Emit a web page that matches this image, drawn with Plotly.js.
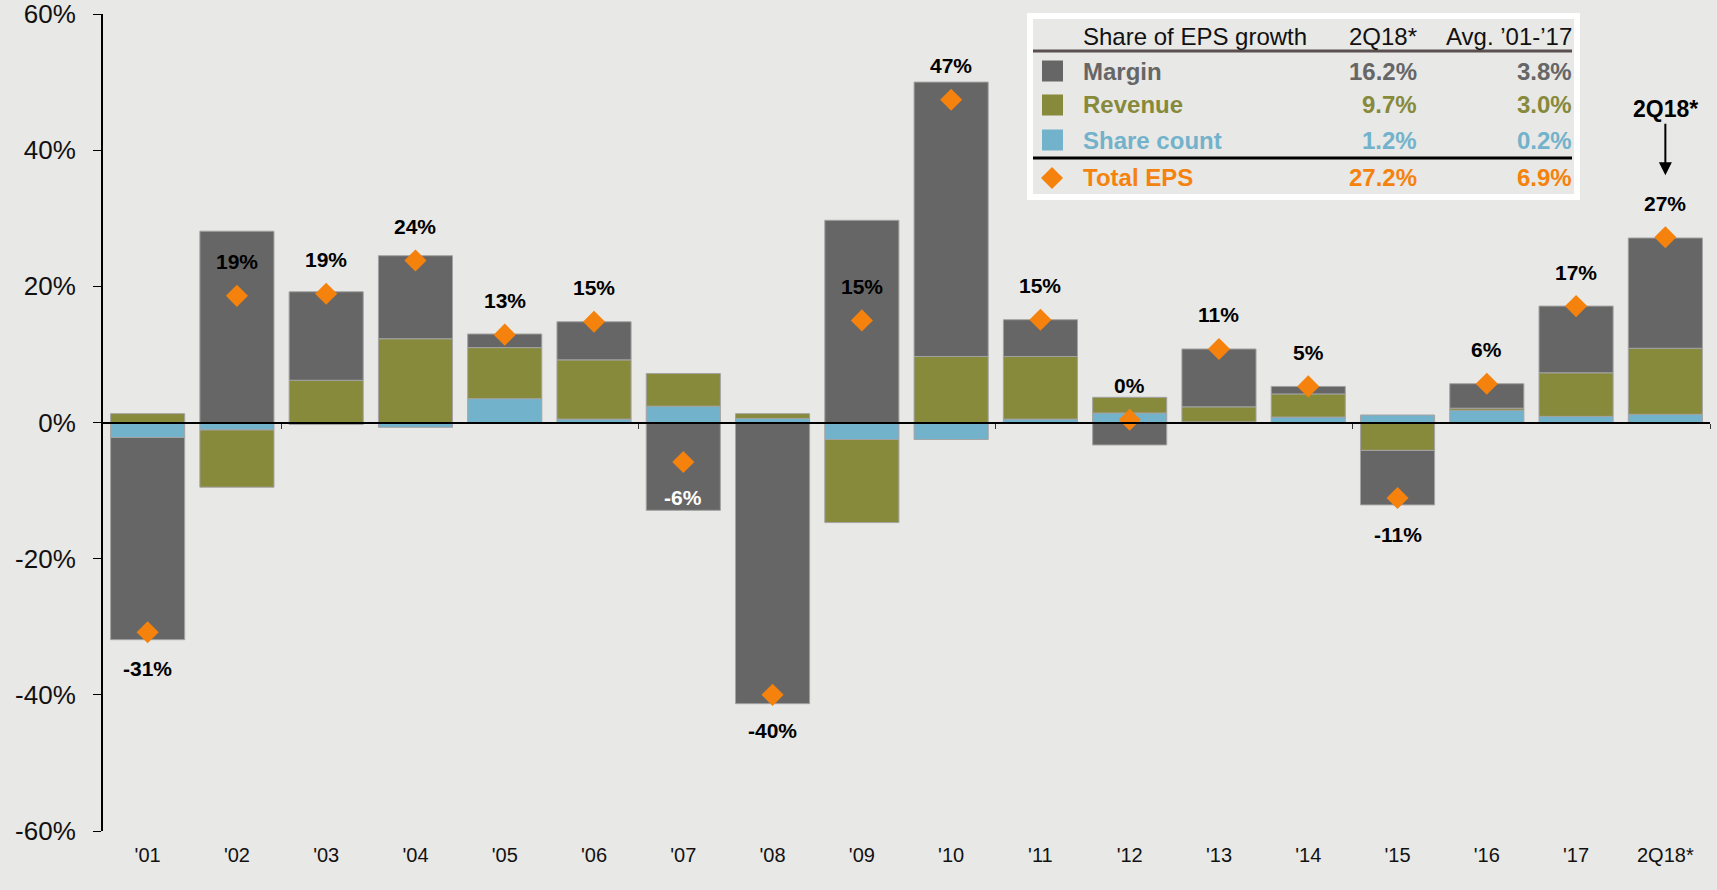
<!DOCTYPE html>
<html>
<head>
<meta charset="utf-8">
<script src="https://cdn.plot.ly/plotly-3.0.1.min.js"></script>
<style>
  html, body { margin: 0; padding: 0; background: #e8e8e6; }
  #chart { width: 1717px; height: 890px; }
</style>
</head>
<body>
<div id="chart"></div>
<script>
// Contribution to annual EPS growth, in percentage points
var years = ["'01", "'02", "'03", "'04", "'05", "'06", "'07", "'08", "'09",
             "'10", "'11", "'12", "'13", "'14", "'15", "'16", "'17", "2Q18*"];
var margin = [-29.7, 28.1, 13.0, 12.2, 2.0, 5.6, -12.9, -41.3, 29.7,
              40.3, 5.4, -3.3, 8.5, 1.1, -8.0, 3.6, 9.8, 16.2];
var revenue = [1.3, -8.4, 6.2, 12.3, 7.5, 8.7, 4.8, 0.7, -12.2,
               9.7, 9.2, 2.3, 2.2, 3.4, -4.1, 0.3, 6.4, 9.7];
var shareCount = [-2.2, -1.1, -0.3, -0.7, 3.5, 0.5, 2.4, 0.6, -2.5,
                  -2.5, 0.5, 1.4, 0.1, 0.8, 1.1, 1.8, 0.9, 1.2];
var totalEps = [-30.8, 18.6, 18.9, 23.8, 12.9, 14.8, -5.8, -40.0, 15.0,
                47.4, 15.1, 0.4, 10.8, 5.3, -11.1, 5.7, 17.1, 27.2];
var epsLabels = ['-31%', '19%', '19%', '24%', '13%', '15%', '-6%', '-40%', '15%',
                 '47%', '15%', '0%', '11%', '5%', '-11%', '6%', '17%', '27%'];

var yTickVals = [-60, -40, -20, 0, 20, 40, 60];
var yTickText = ['-60%', '-40%', '-20%', '0%', '20%', '40%', '60%'];

// table in the top right corner
var legendNames = ['Margin', 'Revenue', 'Share count', 'Total EPS'];
var legend2Q18 = ['16.2%', '9.7%', '1.2%', '27.2%'];
var legendAvg = ['3.8%', '3.0%', '0.2%', '6.9%'];

var colors = ['#666666', '#87893b', '#72b2cb', '#f5820d'];
var bg = '#e8e8e6';
var font = 'Liberation Sans, Arial, sans-serif';

// pixel -> paper helpers for the table (plot area is 103..1710 x 14..831)
function px(x) { return (x - 103) / 1607; }
function py(y) { return (831 - y) / 817; }

var barLine = {color: '#a3a3a3', width: 1};
// stacking order: share count nearest zero, then revenue, then margin
var traces = [
    {type: 'bar', x: years, y: shareCount, marker: {color: colors[2], line: barLine}, name: 'Share count'},
    {type: 'bar', x: years, y: revenue, marker: {color: colors[1], line: barLine}, name: 'Revenue'},
    {type: 'bar', x: years, y: margin, marker: {color: colors[0], line: barLine}, name: 'Margin'},
    {type: 'scatter', mode: 'markers', x: years, y: totalEps, xaxis: 'x2', name: 'Total EPS',
     marker: {symbol: 'diamond', size: 17, color: colors[3]}}
];

var annotations = [];

// value labels: 5 points above/below the diamond, white when it falls inside the bar
for (var i = 0; i < years.length; i++) {
    var top = 0, bot = 0;
    [margin, revenue, shareCount].forEach(function (s) {
        if (s[i] > 0) top += s[i]; else bot += s[i];
    });
    var up = totalEps[i] >= 0;
    var gap = up ? top - totalEps[i] : totalEps[i] - bot;
    var inside = gap > 6;
    annotations.push({
        x: years[i], y: totalEps[i], xref: 'x', yref: 'y',
        text: '<b>' + epsLabels[i] + '</b>', showarrow: false,
        yshift: up ? 34 : -36, yanchor: 'middle',
        font: {family: font, size: 21, color: inside ? '#ffffff' : '#000000'}
    });
}

// callout arrow over the latest bar
annotations.push({
    x: years[years.length - 1], y: 36.3, xref: 'x', yref: 'y',
    text: '<b>2Q18*</b>', showarrow: true, ax: 0, ay: -66,
    arrowhead: 2, arrowsize: 1.3, arrowwidth: 2, arrowcolor: '#000',
    font: {family: font, size: 23, color: '#000'}
});

// table header
annotations.push(
    {xref: 'paper', yref: 'paper', x: px(1081), y: py(37), xanchor: 'left', yanchor: 'middle',
     text: 'Share of EPS growth', showarrow: false, font: {family: font, size: 24, color: '#111'}},
    {xref: 'paper', yref: 'paper', x: px(1419), y: py(37), xanchor: 'right', yanchor: 'middle',
     text: '2Q18*', showarrow: false, font: {family: font, size: 24, color: '#111'}},
    {xref: 'paper', yref: 'paper', x: px(1574), y: py(37), xanchor: 'right', yanchor: 'middle',
     text: 'Avg. \u201901-\u201917', showarrow: false, font: {family: font, size: 24, color: '#111'}}
);

var rowY = [71, 105, 140, 178];
var shapes = [
    // white frame of the table
    {type: 'rect', xref: 'paper', yref: 'paper', x0: px(1030), x1: px(1577), y0: py(16), y1: py(197),
     line: {color: '#ffffff', width: 6}, fillcolor: bg, layer: 'above'},
    {type: 'line', xref: 'paper', yref: 'paper', x0: px(1033), x1: px(1572), y0: py(51), y1: py(51),
     line: {color: '#5a5050', width: 3}, layer: 'above'},
    {type: 'line', xref: 'paper', yref: 'paper', x0: px(1033), x1: px(1572), y0: py(158), y1: py(158),
     line: {color: '#000000', width: 3}, layer: 'above'}
];

legendNames.forEach(function (name, k) {
    var yc = rowY[k];
    if (k < 3) {
        shapes.push({type: 'rect', xref: 'paper', yref: 'paper',
            x0: px(1042), x1: px(1063), y0: py(yc + 10.5), y1: py(yc - 10.5),
            fillcolor: colors[k], line: {width: 0}, layer: 'above'});
    } else {
        var p = 'M' + px(1052) + ',' + py(yc - 11) + ' L' + px(1063) + ',' + py(yc) +
                ' L' + px(1052) + ',' + py(yc + 11) + ' L' + px(1041) + ',' + py(yc) + ' Z';
        shapes.push({type: 'path', xref: 'paper', yref: 'paper', path: p,
            fillcolor: colors[k], line: {width: 0}, layer: 'above'});
    }
    var f = {family: font, size: 24, color: colors[k]};
    annotations.push(
        {xref: 'paper', yref: 'paper', x: px(1081), y: py(yc), xanchor: 'left', yanchor: 'middle',
         text: '<b>' + name + '</b>', showarrow: false, font: f},
        {xref: 'paper', yref: 'paper', x: px(1419), y: py(yc), xanchor: 'right', yanchor: 'middle',
         text: '<b>' + legend2Q18[k] + '</b>', showarrow: false, font: f},
        {xref: 'paper', yref: 'paper', x: px(1574), y: py(yc), xanchor: 'right', yanchor: 'middle',
         text: '<b>' + legendAvg[k] + '</b>', showarrow: false, font: f}
    );
});

var layout = {
    width: 1717, height: 890,
    paper_bgcolor: bg, plot_bgcolor: bg,
    margin: {l: 103, r: 7, t: 14, b: 59},
    barmode: 'relative', bargap: 0.17,
    showlegend: false,
    font: {family: font, color: '#111'},
    xaxis: {type: 'category', range: [-0.5, 17.5], showline: false, showgrid: false,
            zeroline: false, ticks: '', tickfont: {size: 20, color: '#111'}, ticklabelstandoff: 10},
    // axis line through zero with the odd tick marks
    xaxis2: {type: 'category', overlaying: 'x', anchor: 'free', position: 0.5,
             range: [-0.5, 17.5], showline: true, linecolor: '#000', linewidth: 2.5,
             ticks: 'outside', ticklen: 5, tickwidth: 1, tickcolor: '#333',
             tickmode: 'array', tickvals: [1.5, 5.5, 9.5, 13.5, 17.5],
             showticklabels: false, showgrid: false, zeroline: false},
    yaxis: {range: [-60, 60], tickmode: 'array', tickvals: yTickVals, ticktext: yTickText,
            showline: true, linecolor: '#000', linewidth: 2, ticks: 'outside', ticklen: 8,
            tickcolor: '#000', showgrid: false, zeroline: false, ticklabeloverflow: 'allow',
            tickfont: {size: 26, color: '#111'}, ticklabelstandoff: 12},
    shapes: shapes,
    annotations: annotations
};

Plotly.newPlot('chart', traces, layout, {displayModeBar: false, staticPlot: true});
</script>
</body>
</html>
